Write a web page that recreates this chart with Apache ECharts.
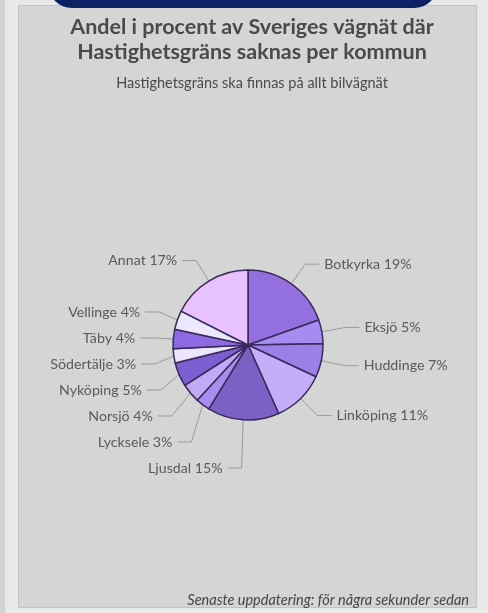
<!DOCTYPE html>
<html>
<head>
<meta charset="utf-8">
<script src="https://cdn.jsdelivr.net/npm/echarts@6/dist/echarts.min.js"></script>
<style>
html,body{margin:0;padding:0;background:#e9e9e9;}
#c{width:488px;height:613px;}
</style>
</head>
<body>
<div id="c"></div>
<script>
const titleText = 'Andel i procent av Sveriges vägnät där\nHastighetsgräns saknas per kommun';
const subtitleText = 'Hastighetsgräns ska finnas på allt bilvägnät';
const footerText = 'Senaste uppdatering: för några sekunder sedan';
const categories = ['Botkyrka','Eksjö','Huddinge','Linköping','Ljusdal','Lycksele','Norsjö','Nyköping','Södertälje','Täby','Vellinge','Annat'];
const values = [19,5,7,11,15,3,4,5,3,4,4,17];
const colors = ['#9470df','#a68bf0','#9c80e8','#c4aefa','#7d60c4','#a88cf0','#c2aaf6','#7b5ecf','#ebe6fb','#8c6ae2','#ece8fc','#e8c2ff'];

const chart = echarts.init(document.getElementById('c'));
chart.setOption({
  animation:false,
  graphic:[
    {type:'rect',shape:{x:0,y:0,width:5,height:613},style:{fill:'#d2d2d2'},z:-10},
    {type:'rect',shape:{x:18.5,y:5.5,width:458,height:602},style:{fill:'#d5d5d5',stroke:'#c2c2c2',lineWidth:1},z:-10},
    {type:'rect',shape:{x:48,y:-30,width:390,height:38,r:[0,0,24,24]},style:{fill:'#0c2265'},z:-9},
    {type:'text',right:19,bottom:5,style:{text:footerText,fill:'#444',font:'italic 14.5px Lato',textAlign:'right'}}
  ],
  title:{
    text:titleText,
    subtext:subtitleText,
    left:247, top:10, textAlign:'center',
    textStyle:{fontFamily:'Lato',fontWeight:'bold',fontSize:21.5,color:'#4a4a4a',lineHeight:25},
    subtextStyle:{fontFamily:'Lato',fontSize:14.5,color:'#4a4a4a'},
    itemGap:11
  },
  series:[{
    type:'pie',
    center:[248,345],
    radius:75,
    startAngle:90,
    clockwise:true,
    data:categories.map((n,i)=>({name:n,value:values[i],itemStyle:{color:colors[i]}})),
    itemStyle:{borderColor:'#3a2a5c',borderWidth:1.5},
    label:{formatter:'{b} {c}%',fontFamily:'Lato',fontSize:14.2,color:'#5a5a5a',lineHeight:24},
    labelLine:{length:24,length2:14,lineStyle:{color:'#9a9a9a',width:1}},
    emphasis:{disabled:true}
  }]
});
</script>
</body>
</html>
